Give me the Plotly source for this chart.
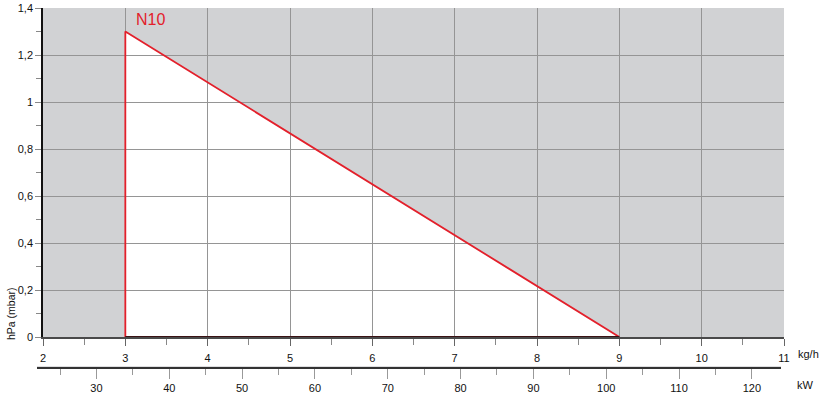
import plotly.graph_objects as go

# Data
kg_h = [3, 3, 9]
pressure = [0, 1.3, 0]
kg_ticks = [2, 3, 4, 5, 6, 7, 8, 9, 10, 11]
p_ticks = [0, 0.2, 0.4, 0.6, 0.8, 1.0, 1.2, 1.4]
p_labels = ["0", "0,2", "0,4", "0,6", "0,8", "1", "1,2", "1,4"]
kw_ticks = [30, 40, 50, 60, 70, 80, 90, 100, 110, 120]
kw_range = [21.835, 124.0]
series_name = "N10"

W, H = 826, 405
ML, MR, MT, MB = 37, 42, 8, 38
PW, PH = W - ML - MR, H - MT - MB

def px(x):
    return (x - ML) / PW

def py(y):
    return (H - MB - y) / PH

RED = "#e3202b"
GRID = "#959595"
FONT = "Liberation Sans"

fig = go.Figure()

# white envelope polygon (shape below gridlines)
path = "M " + " L ".join(f"{x},{y}" for x, y in zip(kg_h, pressure)) + " Z"
fig.add_shape(type="path", path=path, xref="x", yref="y",
              fillcolor="white", line=dict(width=0), layer="below")

# red envelope line
fig.add_trace(go.Scatter(x=kg_h, y=pressure,
                         mode="lines", line=dict(color=RED, width=1.8),
                         hoverinfo="skip", showlegend=False))
# closing base segment (dark, merges with axis)
fig.add_trace(go.Scatter(x=[kg_h[2], kg_h[0]], y=[pressure[2], pressure[0]],
                         mode="lines", line=dict(color="#3a1214", width=2),
                         cliponaxis=False, hoverinfo="skip", showlegend=False))

# dummy trace for kW axis (own flat subplot)
fig.add_trace(go.Scatter(x=kw_ticks, y=[None] * len(kw_ticks), xaxis="x2", yaxis="y2",
                         mode="markers", marker=dict(opacity=0), hoverinfo="skip",
                         showlegend=False))

fig.add_annotation(x=kg_h[1] + 0.1, y=pressure[1] + 0.05, xref="x", yref="y",
                   text=series_name, showarrow=False, xanchor="left", yanchor="middle",
                   font=dict(family=FONT, size=16, color=RED))

fig.add_annotation(x=px(796), y=py(354), xref="paper", yref="paper", text="kg/h",
                   showarrow=False, xanchor="left", yanchor="middle",
                   font=dict(family=FONT, size=11, color="#111"))
fig.add_annotation(x=px(795), y=py(385), xref="paper", yref="paper", text="kW",
                   showarrow=False, xanchor="left", yanchor="middle",
                   font=dict(family=FONT, size=11, color="#111"))
fig.add_annotation(x=px(11), y=py(313), xref="paper", yref="paper", text="hPa (mbar)",
                   showarrow=False, textangle=-90, xanchor="center", yanchor="middle",
                   font=dict(family=FONT, size=10.5, color="#111"))

y0_frac = (H - MB - 337) / PH

fig.update_layout(
    width=W, height=H,
    margin=dict(l=ML, r=MR, t=MT, b=MB, pad=0),
    paper_bgcolor="white",
    plot_bgcolor="#d1d2d4",
    showlegend=False,
    font=dict(family=FONT, size=11, color="#111"),
    xaxis=dict(
        range=[2, 11], domain=[px(43), 1], anchor="y", automargin=False,
        tickvals=kg_ticks, ticktext=[str(v) for v in kg_ticks],
        showgrid=True, gridcolor=GRID, gridwidth=1,
        showline=True, linecolor="#4a4a4a", linewidth=2,
        ticks="outside", ticklen=7, tickcolor="#666", tickwidth=1,
        ticklabelstandoff=3,
        minor=dict(dtick=0.5, ticks="outside", ticklen=6, tickcolor="#888", showgrid=False),
        zeroline=False, fixedrange=True,
        tickfont=dict(family=FONT, size=11, color="#111"),
    ),
    xaxis2=dict(
        range=kw_range, domain=[0, px(781)], anchor="y2", automargin=False,
        tickvals=kw_ticks, ticktext=[str(v) for v in kw_ticks],
        showgrid=False, zeroline=False,
        showline=True, linecolor="#333", linewidth=2,
        ticks="outside", ticklen=10, tickcolor="#999", tickwidth=1,
        minor=dict(dtick=5, tick0=0, ticks="outside", ticklen=6, tickcolor="#999", showgrid=False),
        tickfont=dict(family=FONT, size=11, color="#111"),
    ),
    yaxis=dict(
        range=[0, 1.4], domain=[y0_frac, 1], anchor="x", automargin=False,
        tickvals=p_ticks, ticktext=p_labels,
        showgrid=True, gridcolor=GRID, gridwidth=1,
        showline=True, linecolor="#111", linewidth=1.5,
        ticks="outside", ticklen=6, tickcolor="#888", tickwidth=1,
        minor=dict(dtick=0.1, ticks="outside", ticklen=5, tickcolor="#888", showgrid=False),
        zeroline=False,
        tickfont=dict(family=FONT, size=11, color="#111"),
    ),
    yaxis2=dict(
        domain=[0, 0.002], anchor="x2", range=[0, 1], visible=False,
        showgrid=False, zeroline=False, automargin=False,
    ),
)

fig.write_html("out.html", config={"displayModeBar": False},
               post_script="document.body.style.margin='0';document.body.style.padding='0';")
